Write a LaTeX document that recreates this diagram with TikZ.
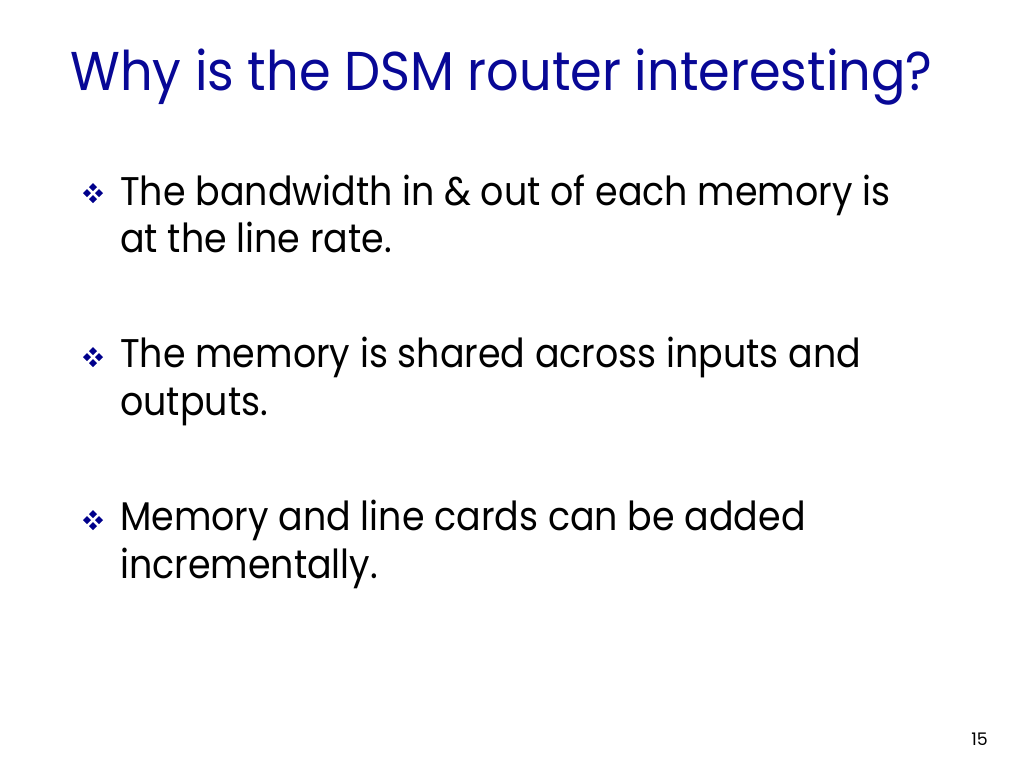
\documentclass[tikz,border=0pt]{standalone}
\usepackage{fontspec}
\setmainfont{Poppins}
\definecolor{titleblue}{RGB}{8,8,150}
\definecolor{bulletblue}{RGB}{0,0,140}
\begin{document}
\begin{tikzpicture}[x=0.75pt,y=-0.75pt,
  titletext/.style={anchor=base west,inner sep=0pt,text=titleblue,font=\fontsize{41}{48}\selectfont\addfontfeatures{FakeStretch=0.933}},
  bodytext/.style={anchor=base west,inner sep=0pt,text=black,font=\fontsize{30}{36}\selectfont\addfontfeatures{FakeStretch=0.91}},
  pagetext/.style={anchor=base east,inner sep=0pt,text=black,font=\fontsize{13}{15}\selectfont},
  dia/.style={fill=bulletblue,draw=none}]
\useasboundingbox[fill=white] (0,0) rectangle (1024,768);
\newcommand\bulletmark[2]{%
  \foreach \dx/\dy in {0/-6,0/6,-6/0,6/0}{%
    \fill[dia] (#1+\dx,#2+\dy+4) -- (#1+\dx+4,#2+\dy) -- (#1+\dx,#2+\dy-4) -- (#1+\dx-4,#2+\dy) -- cycle;}}
\node[titletext] (title) at (70,90) {Why is the DSM router interesting?};
\bulletmark{93}{193}
\node[bodytext] (b1a) at (120,205) {The bandwidth in \& out of each memory is};
\node[bodytext] (b1b) at (120,252) {at the line rate.};
\bulletmark{93}{357}
\node[bodytext] (b2a) at (120,367) {The memory is shared across inputs and};
\node[bodytext] (b2b) at (120,415) {outputs.};
\bulletmark{93}{520}
\node[bodytext] (b3a) at (120,530) {Memory and line cards can be added};
\node[bodytext] (b3b) at (120,578) {incrementally.};
\node[pagetext] (page) at (988,745) {15};
\end{tikzpicture}
\end{document}
